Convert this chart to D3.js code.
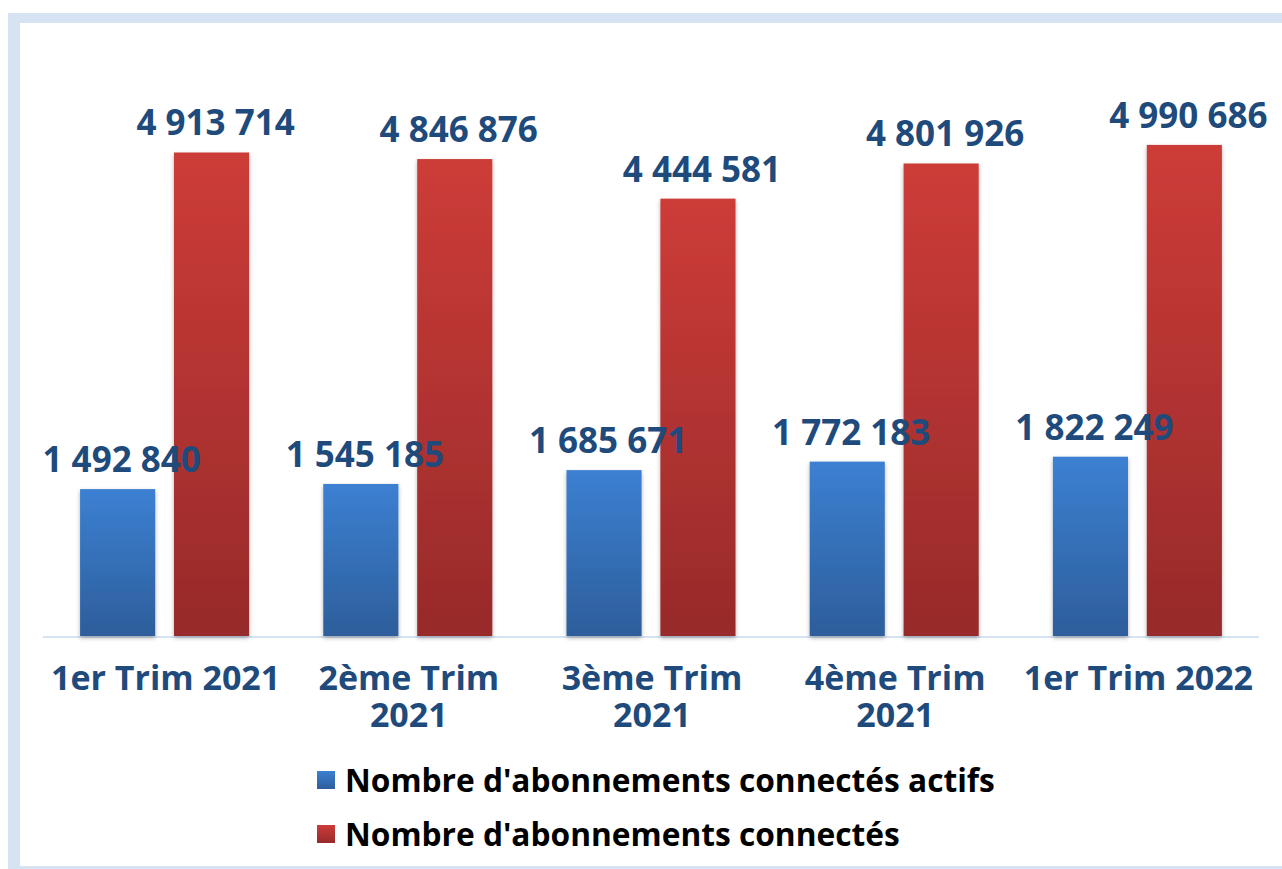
<!DOCTYPE html>
<html>
<head>
<meta charset="utf-8">
<script src="https://cdn.jsdelivr.net/npm/d3@7"></script>
<style>
  body { margin: 0; background: #fff; }
  svg text { font-family: "Open Sans", "DejaVu Sans", sans-serif; font-weight: 700; }
</style>
</head>
<body>
<div id="chart"></div>
<script>
  /**
   * DATA
   * */
  const categories = ["1er Trim 2021", "2ème Trim 2021", "3ème Trim 2021", "4ème Trim 2021", "1er Trim 2022"];
  const catLines = [["1er Trim 2021"], ["2ème Trim", "2021"], ["3ème Trim", "2021"], ["4ème Trim", "2021"], ["1er Trim 2022"]];
  const seriesNames = ["Nombre d'abonnements connectés actifs", "Nombre d'abonnements connectés"];
  const actifs = [1492840, 1545185, 1685671, 1772183, 1822249];
  const connectes = [4913714, 4846876, 4444581, 4801926, 4990686];

  /**
   * CONSTANTS
   * */
  const width = 1282, height = 869;
  const baseY = 636;
  const labelColor = "#1f4a7c";
  const frameColor = "#d5e3f3";

  const data = categories.map((c, i) => ({ cat: c, lines: catLines[i], values: [actifs[i], connectes[i]] }));

  const svg = d3.select("#chart").append("svg")
    .attr("width", width)
    .attr("height", height);

  const defs = svg.append("defs");
  const grads = [["gBlue", "#3c80d2", "#2d5e9b"], ["gRed", "#cd3c38", "#972a2a"]];
  grads.forEach(g => {
    const lg = defs.append("linearGradient").attr("id", g[0]).attr("x1", 0).attr("y1", 0).attr("x2", 0).attr("y2", 1);
    lg.append("stop").attr("offset", "0%").attr("stop-color", g[1]);
    lg.append("stop").attr("offset", "100%").attr("stop-color", g[2]);
  });
  const shadow = defs.append("filter").attr("id", "shadow").attr("x", "-20%").attr("y", "-5%").attr("width", "140%").attr("height", "110%");
  shadow.append("feDropShadow").attr("dx", 0).attr("dy", 2).attr("stdDeviation", 2).attr("flood-color", "#000").attr("flood-opacity", 0.3);

  // frame
  svg.append("rect").attr("x", 8).attr("y", 13).attr("width", 12).attr("height", height - 13).attr("fill", frameColor);
  svg.append("rect").attr("x", 8).attr("y", 13).attr("width", width - 8).attr("height", 10).attr("fill", frameColor);
  svg.append("rect").attr("x", 20).attr("y", 866).attr("width", width - 20).attr("height", 3).attr("fill", frameColor);

  /**
   * SCALES
   * */
  const x0 = d3.scaleBand()
    .domain(categories)
    .range([43, 1259])
    .paddingInner(0.305)
    .paddingOuter(0.1525);

  const x1 = d3.scaleBand()
    .domain([0, 1])
    .range([0, x0.bandwidth()])
    .paddingInner(0.2);

  const y = d3.scaleLinear()
    .domain([0, 6000000])
    .range([baseY, baseY - 6000000 * 9.84e-5]);

  const fmt = v => d3.format(",")(v).replace(/,/g, " ");

  // axis line
  svg.append("line")
    .attr("x1", 43).attr("x2", 1259)
    .attr("y1", baseY + 1).attr("y2", baseY + 1)
    .attr("stroke", frameColor).attr("stroke-width", 2);

  /**
   * BARS
   * */
  const groups = svg.selectAll("g.group")
    .data(data)
    .join("g")
    .attr("class", "group")
    .attr("transform", d => `translate(${x0(d.cat)},0)`);

  groups.selectAll("rect")
    .data(d => d.values.map((v, i) => ({ v, i })))
    .join("rect")
    .attr("x", d => x1(d.i))
    .attr("y", d => y(d.v))
    .attr("width", x1.bandwidth())
    .attr("height", d => baseY - y(d.v))
    .attr("fill", d => d.i === 0 ? "url(#gBlue)" : "url(#gRed)")
    .attr("filter", "url(#shadow)");

  groups.selectAll("text.val")
    .data(d => d.values.map((v, i) => ({ v, i })))
    .join("text")
    .attr("class", "val")
    .attr("x", d => x1(d.i) + x1.bandwidth() / 2 + 4)
    .attr("y", d => y(d.v) - 17)
    .attr("text-anchor", "middle")
    .attr("fill", labelColor)
    .style("font-size", "35px")
    .text(d => fmt(d.v));

  // category labels, one text per line
  groups.selectAll("text.cat")
    .data(d => d.lines)
    .join("text")
    .attr("class", "cat")
    .attr("text-anchor", "middle")
    .attr("fill", labelColor)
    .style("font-size", "34px")
    .attr("x", x0.bandwidth() / 2 + 1)
    .attr("y", (d, i) => 690 + i * 37)
    .text(d => d);

  /**
   * LEGEND
   * */
  const legend = svg.selectAll("g.legend")
    .data(seriesNames)
    .join("g")
    .attr("class", "legend")
    .attr("transform", (d, i) => `translate(317,${771 + i * 54})`);

  legend.append("rect")
    .attr("width", 18).attr("height", 18)
    .attr("fill", (d, i) => i === 0 ? "url(#gBlue)" : "url(#gRed)");

  legend.append("text")
    .attr("x", 28)
    .attr("y", 21)
    .attr("fill", "#000")
    .style("font-size", "31.7px")
    .text(d => d);
</script>
</body>
</html>
